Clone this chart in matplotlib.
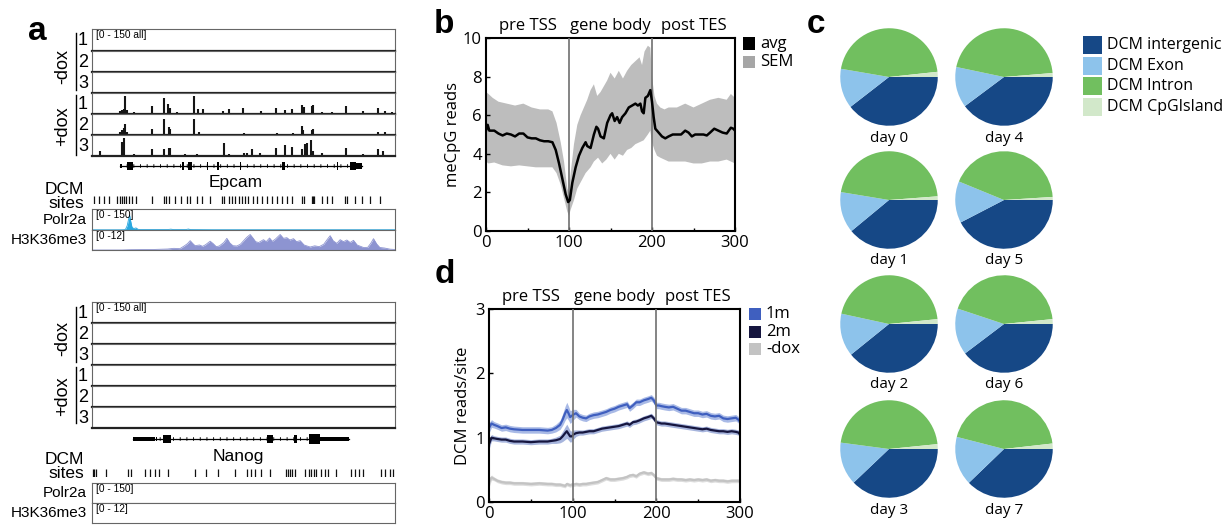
import matplotlib
matplotlib.use("Agg")
import matplotlib.pyplot as plt
from matplotlib.patches import Rectangle
import matplotlib.transforms as mtransforms

W, H = 1228, 525

# ------------------------------------------------------------------ data
# ---- panel a : Epcam locus (x = position in % of the locus window) ----
epcam_dox1_pos = [9.1, 9.9, 10.4, 11.0, 11.5, 14.0, 19.8, 23.6, 25.1, 25.6, 28.0, 33.5, 34.9, 36.5,
                  43.2, 45.2, 49.8, 55.8, 60.8, 63.7, 65.9, 69.2, 70.0, 72.5, 73.1, 76.0, 79.1, 83.7,
                  89.6, 94.3, 96.7, 98.9]
epcam_dox1_val = [24, 29, 36, 125, 29, 12, 55, 115, 70, 44, 12, 125, 36, 36,
                  20, 36, 44, 20, 44, 29, 36, 62, 48, 55, 62, 12, 12, 55,
                  20, 44, 24, 12]
epcam_dox2_pos = [2.5, 9.1, 9.9, 10.4, 11.0, 11.5, 13.7, 19.8, 23.6, 25.3, 25.8, 28.6, 33.5, 35.2,
                  43.4, 45.1, 50.0, 53.8, 56.6, 61.0, 63.7, 66.5, 69.2, 69.8, 72.5, 73.1, 75.8, 79.7,
                  84.1, 89.6, 94.5, 96.7, 98.4]
epcam_dox2_val = [7, 19, 36, 48, 75, 19, 7, 44, 112, 60, 44, 7, 112, 19,
                  7, 7, 12, 7, 7, 12, 7, 12, 62, 36, 36, 44, 7, 7,
                  7, 7, 19, 24, 7]
epcam_dox3_pos = [2.7, 9.9, 10.7, 14.0, 19.8, 23.6, 25.3, 25.8, 28.6, 30.8, 33.0, 34.6, 43.4, 45.1,
                  50.0, 51.1, 52.7, 55.5, 60.8, 63.7, 65.9, 69.2, 70.3, 70.9, 72.2, 73.1, 76.0, 83.7,
                  89.6, 94.3, 96.2, 98.4]
epcam_dox3_val = [36, 100, 128, 12, 48, 48, 55, 55, 7, 12, 7, 12, 95, 12,
                  19, 19, 48, 24, 55, 82, 62, 48, 88, 95, 112, 36, 24, 55,
                  12, 48, 36, 7]
epcam_gene = (9.1, 89.0)
epcam_exons = [(9.1, 9.9, 0.25), (11.7, 13.5, 0.5), (29.6, 30.3, 0.5), (31.7, 33.0, 0.5),
               (37.8, 38.4, 0.5), (41.2, 41.8, 0.5), (48.7, 49.3, 0.5), (62.6, 63.6, 0.5),
               (80.7, 81.2, 0.5), (85.1, 87.2, 0.5), (87.2, 89.0, 0.4)]
epcam_dcm_sites = [0.8, 2.4, 4.1, 5.7, 8.2, 9.1, 9.9, 10.7, 11.3, 12.1, 13.2, 14.6, 19.8, 23.6, 24.5,
                   25.5, 27.3, 29.3, 31.3, 32.4, 34.6, 36.3, 38.8, 42.9, 43.4, 45.1, 46.2, 47.3, 48.4,
                   49.5, 50.5, 51.6, 53.3, 54.4, 56.0, 57.7, 59.3, 61.0, 62.6, 64.3, 65.9, 69.2, 70.0,
                   72.5, 72.9, 73.3, 75.8, 77.5, 79.1, 83.5, 84.1, 86.8, 89.0, 91.8, 95.1]
epcam_polr2a_x = [0, 10, 11, 11.6, 12.0, 12.4, 12.8, 13.2, 13.8, 14.5, 15.2, 16, 25, 26, 27, 31, 31.8,
                  32.5, 40, 50, 60, 70, 80, 90, 100]
epcam_polr2a_y = [1.5, 1.5, 3, 30, 70, 108, 60, 20, 10, 15, 5, 3, 3, 6, 3, 3, 7,
                  3, 2, 2, 2, 2, 2, 2, 2]
epcam_h3k36_x = [0, 10, 13, 20, 25, 27, 29, 30.5, 31.5, 32.4, 33.2, 34, 35.5, 36.5, 37.5, 39, 40, 41,
                 42, 43.5, 44.5, 45.5, 46.5, 47.8, 49, 50, 51, 52.2, 53.2, 54, 55, 56.6, 57.5, 58.6,
                 59.5, 60.5, 62.1, 63.2, 64.3, 65.3, 66.5, 67.5, 68.7, 70, 72, 73.5, 75, 76.5, 77.5,
                 78.6, 79.6, 80.8, 81.9, 83, 84.1, 85.2, 86.3, 87.5, 89.6, 91, 92, 92.9, 94, 95,
                 96.5, 98.4, 100]
epcam_h3k36_y = [0, 0, 0.2, 0.3, 0.6, 1.0, 0.8, 2.5, 3.8, 5.6, 4.0, 2.6, 3.0, 2.2, 3.2, 5.3, 3.8, 2.0,
                 2.4, 4.5, 7.0, 4.2, 2.6, 2.4, 3.5, 5.5, 7.5, 9.3, 7.0, 5.0, 4.5, 6.2, 5.0, 7.2,
                 5.2, 6.5, 9.3, 7.0, 7.4, 6.0, 6.8, 5.0, 5.6, 3.0, 1.8, 2.5, 2.0, 3.5, 6.0,
                 8.6, 5.5, 4.0, 6.2, 5.0, 6.0, 4.5, 5.8, 3.0, 1.5, 1.6, 4.0, 6.8, 3.5, 1.5,
                 1.2, 0.5, 0.3]

# ---- panel a : Nanog locus ----
nanog_dox1_pos = [1.0, 5.4, 12.5, 53.1]
nanog_dox1_val = [5, 5, 5, 5]
nanog_dox2_pos = [1.0, 4.8, 12.5]
nanog_dox2_val = [5, 5, 5]
nanog_dox3_pos = [1.0, 4.8, 12.5, 34.4, 75.0]
nanog_dox3_val = [6, 6, 6, 5, 6]
nanog_gene = (13.5, 84.9)
nanog_exons = [(13.5, 20.7, 0.3), (21.0, 21.3, 0.3), (23.4, 26.0, 0.5), (57.6, 59.9, 0.5),
               (66.8, 67.8, 0.5), (71.7, 75.3, 0.6), (75.3, 84.9, 0.3)]
nanog_dcm_sites = [0.3, 0.7, 1.2, 4.7, 11.9, 12.8, 17.4, 19.0, 20.7, 22.0, 25.1, 33.9, 37.7, 41.6,
                   47.1, 51.3, 52.4, 53.7, 55.7, 58.7, 64.1, 64.7, 65.3, 66.0, 66.9, 70.2, 71.5,
                   72.4, 73.3, 74.0, 75.7, 77.0, 77.9, 80.6, 85.6, 86.7, 88.0, 89.5, 95.5, 96.6,
                   98.3, 99.3]

# ---- panel b : meCpG reads profile ----
b_avg_x = [0, 2, 4, 10, 15, 20, 25, 30, 35, 40, 45, 50, 55, 60, 65, 70, 75, 80, 84, 88,
           92, 96, 99, 101, 104, 108, 112, 116, 120, 122, 126, 130, 133, 135, 138, 142, 146, 150, 152, 155,
           158, 161, 164, 168, 172, 176, 180, 183, 186, 188, 190, 192, 195, 198, 200, 202, 204, 208, 212, 216,
           220, 225, 230, 235, 240, 244, 248, 252, 258, 262, 266, 270, 275, 280, 285, 290, 295, 298, 300]
b_avg_y = [5.2, 5.5, 5.2, 5.2, 5.05, 4.95, 5.05, 5.0, 4.9, 5.05, 5.05, 4.85, 4.8, 4.8, 4.7, 4.65, 4.65, 4.6, 4.2, 3.5,
           2.7, 1.9, 1.5, 1.6, 2.5, 3.3, 3.9, 4.3, 4.6, 4.4, 4.3, 5.0, 5.4, 5.3, 4.9, 4.8, 5.6, 6.0, 6.1, 5.7,
           5.9, 5.6, 5.9, 6.1, 6.4, 6.5, 6.6, 6.5, 6.6, 6.2, 6.1, 6.9, 7.0, 7.3, 6.7, 5.9, 5.3, 5.1, 4.9, 4.8,
           4.9, 5.0, 5.0, 5.0, 5.2, 5.1, 4.9, 5.0, 5.0, 5.0, 4.95, 5.1, 5.3, 5.2, 5.1, 5.05, 5.35, 5.3, 5.2]
b_sem_hi_x = [0, 3, 8, 15, 25, 35, 45, 55, 65, 75, 80, 85, 90, 94, 98, 100, 102, 106, 110, 114,
              118, 122, 126, 130, 134, 138, 142, 146, 150, 155, 160, 165, 170, 175, 180, 185, 188, 191, 195, 198,
              200, 203, 206, 210, 215, 220, 230, 240, 250, 260, 270, 280, 290, 295, 300]
b_sem_hi_y = [7.2, 7.1, 6.9, 6.7, 6.6, 6.5, 6.6, 6.4, 6.3, 6.3, 6.2, 5.6, 4.6, 3.6, 2.2, 2.0, 3.0, 4.5, 5.5, 6.0,
              6.4, 6.8, 7.3, 7.6, 7.0, 7.2, 7.5, 7.8, 8.2, 7.9, 8.3, 7.9, 8.3, 8.6, 8.8, 9.0, 8.6, 9.3, 9.6, 9.5,
              8.0, 7.0, 6.6, 6.4, 6.3, 6.4, 6.4, 6.6, 6.4, 6.6, 6.8, 6.9, 6.8, 7.1, 6.9]
b_sem_lo_x = [0, 3, 10, 20, 30, 40, 50, 60, 70, 80, 85, 90, 94, 98, 100, 102, 106, 110, 115, 120,
              126, 130, 135, 140, 145, 150, 155, 160, 165, 170, 175, 180, 185, 190, 195, 198, 200, 203, 206, 210,
              215, 220, 230, 240, 250, 260, 270, 280, 290, 295, 300]
b_sem_lo_y = [3.6, 3.5, 3.55, 3.4, 3.35, 3.4, 3.35, 3.3, 3.3, 3.3, 3.0, 2.4, 1.7, 1.0, 0.8, 1.1, 1.6, 2.2, 2.6, 3.0,
              3.3, 3.6, 3.8, 3.5, 3.7, 4.0, 3.7, 4.0, 3.9, 4.2, 4.3, 4.5, 4.6, 4.7, 5.0, 5.2, 4.6, 4.2, 3.9, 3.8,
              3.7, 3.6, 3.6, 3.6, 3.5, 3.5, 3.6, 3.6, 3.7, 3.6, 3.5]

# ---- panel c : genomic distribution of DCM sites ----
c_categories = ["DCM intergenic", "DCM Exon", "DCM Intron", "DCM CpGIsland"]
c_days = ["day 0", "day 4", "day 1", "day 5", "day 2", "day 6", "day 3", "day 7"]
c_values = {
    "day 0": [39.5, 13.2, 45.6, 1.7],
    "day 4": [39.8, 13.5, 45.4, 1.3],
    "day 1": [39.0, 13.6, 46.2, 1.2],
    "day 5": [42.4, 13.8, 42.8, 1.0],
    "day 2": [39.2, 14.2, 45.0, 1.6],
    "day 6": [39.7, 15.4, 43.3, 1.6],
    "day 3": [37.9, 14.2, 46.3, 1.6],
    "day 7": [37.8, 16.2, 44.2, 1.8],
}

# ---- panel d : DCM reads per site ----
d_x = [0, 3, 6, 10, 15, 20, 25, 30, 40, 50, 60, 70, 75, 80, 85, 88, 91, 93, 95, 97,
       99, 101, 104, 108, 112, 116, 120, 125, 130, 135, 140, 145, 150, 155, 160, 165, 168, 172, 176, 180,
       185, 190, 194, 197, 200, 203, 206, 210, 215, 220, 225, 230, 235, 240, 245, 250, 255, 260, 265, 270,
       275, 280, 285, 290, 295, 298, 300]
d_1m = [1.15, 1.22, 1.2, 1.18, 1.15, 1.16, 1.14, 1.13, 1.12, 1.12, 1.12, 1.11, 1.12, 1.15, 1.2, 1.28, 1.38, 1.43, 1.38, 1.32,
        1.34, 1.36, 1.38, 1.33, 1.31, 1.3, 1.33, 1.35, 1.36, 1.38, 1.40, 1.43, 1.45, 1.48, 1.5, 1.52, 1.46, 1.5, 1.55, 1.55,
        1.58, 1.6, 1.62, 1.58, 1.5, 1.5, 1.49, 1.48, 1.47, 1.48, 1.45, 1.42, 1.42, 1.4, 1.38, 1.38, 1.36, 1.37, 1.34, 1.33,
        1.34, 1.3, 1.29, 1.3, 1.31, 1.28, 1.25]
d_1m_sem = [0.08, 0.06, 0.05, 0.05, 0.05, 0.05, 0.05, 0.05, 0.05, 0.05, 0.05, 0.05, 0.05, 0.06, 0.07, 0.09, 0.11, 0.12, 0.11, 0.10,
            0.09, 0.08, 0.06, 0.05, 0.05, 0.05, 0.05, 0.05, 0.05, 0.05, 0.05, 0.05, 0.05, 0.05, 0.05, 0.05, 0.05, 0.05, 0.05, 0.05,
            0.05, 0.05, 0.05, 0.05, 0.05, 0.05, 0.05, 0.05, 0.05, 0.05, 0.05, 0.05, 0.05, 0.05, 0.05, 0.05, 0.05, 0.05, 0.05, 0.05,
            0.05, 0.05, 0.05, 0.05, 0.05, 0.05, 0.06]
d_2m = [0.9, 1.0, 0.99, 0.98, 0.97, 0.97, 0.95, 0.94, 0.94, 0.93, 0.94, 0.94, 0.95, 0.96, 0.98, 1.02, 1.07, 1.1, 1.06, 1.02,
        1.02, 1.05, 1.07, 1.08, 1.08, 1.09, 1.1, 1.1, 1.12, 1.14, 1.15, 1.16, 1.17, 1.18, 1.2, 1.22, 1.2, 1.24, 1.25, 1.27,
        1.3, 1.32, 1.34, 1.3, 1.24, 1.23, 1.22, 1.22, 1.21, 1.2, 1.19, 1.18, 1.17, 1.16, 1.15, 1.14, 1.13, 1.14, 1.12, 1.11,
        1.1, 1.1, 1.09, 1.1, 1.09, 1.08, 1.05]
d_2m_sem = [0.08, 0.05, 0.04, 0.04, 0.04, 0.04, 0.04, 0.04, 0.04, 0.04, 0.04, 0.04, 0.04, 0.05, 0.06, 0.08, 0.10, 0.11, 0.10, 0.09,
            0.08, 0.07, 0.05, 0.04, 0.04, 0.04, 0.04, 0.04, 0.04, 0.04, 0.04, 0.04, 0.04, 0.04, 0.04, 0.04, 0.04, 0.04, 0.04, 0.04,
            0.04, 0.04, 0.04, 0.04, 0.04, 0.04, 0.04, 0.04, 0.04, 0.04, 0.04, 0.04, 0.04, 0.04, 0.04, 0.04, 0.04, 0.04, 0.04, 0.04,
            0.04, 0.04, 0.04, 0.04, 0.04, 0.04, 0.05]
d_nodox = [0.3, 0.38, 0.36, 0.33, 0.31, 0.3, 0.3, 0.29, 0.29, 0.28, 0.29, 0.28, 0.28, 0.27, 0.27, 0.26, 0.25, 0.28, 0.27, 0.26,
           0.27, 0.27, 0.28, 0.27, 0.28, 0.28, 0.29, 0.3, 0.31, 0.34, 0.37, 0.35, 0.35, 0.36, 0.37, 0.39, 0.41, 0.42, 0.4, 0.44,
           0.46, 0.44, 0.45, 0.42, 0.37, 0.36, 0.35, 0.35, 0.35, 0.36, 0.35, 0.35, 0.34, 0.35, 0.34, 0.35, 0.34, 0.35, 0.33, 0.34,
           0.33, 0.33, 0.32, 0.33, 0.33, 0.33, 0.32]
d_nodox_sem = [0.07, 0.04, 0.03, 0.03, 0.03, 0.03, 0.03, 0.03, 0.03, 0.03, 0.03, 0.03, 0.03, 0.03, 0.03, 0.03, 0.03, 0.03, 0.03, 0.03,
               0.03, 0.03, 0.03, 0.03, 0.03, 0.03, 0.03, 0.03, 0.03, 0.03, 0.03, 0.03, 0.03, 0.03, 0.03, 0.03, 0.03, 0.03, 0.03, 0.03,
               0.03, 0.03, 0.03, 0.03, 0.03, 0.03, 0.03, 0.03, 0.03, 0.03, 0.03, 0.03, 0.03, 0.03, 0.03, 0.03, 0.03, 0.03, 0.03, 0.03,
               0.03, 0.03, 0.03, 0.03, 0.03, 0.03, 0.03]

region_labels = ["pre TSS", "gene body", "post TES"]
region_centers = [50, 150, 250]

# ------------------------------------------------------------------ figure
fig = plt.figure(figsize=(W / 100, H / 100), dpi=100)
FA = "Liberation Sans"
FB = "Open Sans"


def ax_px(x0, y0, x1, y1):
    return fig.add_axes([x0 / W, 1 - y1 / H, (x1 - x0) / W, (y1 - y0) / H])


def ftext(x, y, s, **kw):
    return fig.text(x / W, 1 - y / H, s, **kw)


def fsquare(x, yc, w, h, color):
    fig.add_artist(Rectangle((x / W, 1 - (yc + h / 2) / H), w / W, h / H,
                             transform=fig.transFigure, facecolor=color, edgecolor="none"))


# ---------------- panel a ----------------
def read_row(y0, y1, pos, val, label=None):
    ax = ax_px(92, y0, 395, y1)
    ax.set_xlim(0, 100)
    ax.set_ylim(0, 150)
    if len(pos):
        ax.vlines(pos, 0, val, color="#151515", lw=1.5)
    for k, s in ax.spines.items():
        s.set_color("#666666")
        s.set_linewidth(0.8)
    ax.spines["bottom"].set_color("#222222")
    ax.spines["bottom"].set_linewidth(1.6)
    ax.set_xticks([])
    ax.set_yticks([])
    if label:
        ax.text(0.012, 0.95, label, transform=ax.transAxes, va="top", ha="left",
                fontsize=7.3, family=FA)
    return ax


def gene_model(y0, y1, span, exons):
    ax = ax_px(92, y0, 395, y1)
    ax.set_xlim(0, 100)
    ax.set_ylim(-1, 1)
    ax.axis("off")
    ax.plot(span, [0, 0], color="k", lw=0.9)
    ax.plot(span, [0, 0], color="k", lw=2.6, ls=(0, (0.25, 1.6)))
    for s, e, h in exons:
        ax.add_patch(Rectangle((s, -h), e - s, 2 * h, facecolor="k", edgecolor="none"))


def site_row(y0, y1, sites):
    ax = ax_px(92, y0, 395, y1)
    ax.set_xlim(0, 100)
    ax.set_ylim(0, 1)
    ax.axis("off")
    ax.vlines(sites, 0, 1, color="#111111", lw=0.9)


def chip_row(y0, y1, x, y, ymax, color, label, fill):
    ax = ax_px(92, y0, 395, y1)
    ax.set_xlim(0, 100)
    ax.set_ylim(0, ymax)
    if fill:
        ax.fill_between(x, 0, y, color=color, lw=0)
        ax.plot(x, y, color=color, lw=0.6)
    for s in ax.spines.values():
        s.set_color("#666666")
        s.set_linewidth(0.8)
    ax.set_xticks([])
    ax.set_yticks([])
    ax.text(0.012, 0.95, label, transform=ax.transAxes, va="top", ha="left", fontsize=7.3, family=FA)


def locus(rows, rowdata, gene_y, span, exons, gname, gname_xy, dcm_lbl_y, sites_y, sites,
          chip_y, polr_data, h3_data, h3_label, dox_lbl_y, bars):
    for i in range(6):
        pos, val = rowdata[i]
        read_row(rows[i], rows[i + 1], pos, val, "[0 - 150 all]" if i == 0 else None)
        ftext(83, (rows[i] + rows[i + 1]) / 2 + 1, str(i % 3 + 1), ha="center", va="center",
              fontsize=13, family=FA)
    for (ya, yb) in bars:
        fig.add_artist(plt.Line2D([76 / W, 76 / W], [1 - ya / H, 1 - yb / H], color="k", lw=1.0,
                                  transform=fig.transFigure))
    ftext(63, dox_lbl_y[0], "-dox", rotation=90, ha="center", va="center", fontsize=13, family=FA)
    ftext(63, dox_lbl_y[1], "+dox", rotation=90, ha="center", va="center", fontsize=13, family=FA)
    gene_model(gene_y - 8, gene_y + 8, span, exons)
    ftext(gname_xy[0], gname_xy[1], gname, ha="center", va="center", fontsize=12.5, family=FA)
    ftext(84, dcm_lbl_y, "DCM", ha="right", va="center", fontsize=12.5, family=FA)
    ftext(84, dcm_lbl_y + 13, "sites", ha="right", va="center", fontsize=12.5, family=FA)
    site_row(sites_y - 4, sites_y + 4, sites)
    chip_row(chip_y[0], chip_y[1], polr_data[0], polr_data[1], 150, "#29A8E0", "[0 - 150]",
             polr_data[0] is not None and len(polr_data[0]) > 0)
    chip_row(chip_y[1], chip_y[2], h3_data[0], h3_data[1], 12, "#8D94D1", h3_label,
             h3_data[0] is not None and len(h3_data[0]) > 0)
    ftext(87, (chip_y[0] + chip_y[1]) / 2, "Polr2a", ha="right", va="center", fontsize=11, family=FA)
    ftext(87, (chip_y[1] + chip_y[2]) / 2, "H3K36me3", ha="right", va="center", fontsize=11, family=FA)


locus([29, 50.5, 71.7, 93, 114, 135, 156],
      [([], []), ([], []), ([], []),
       (epcam_dox1_pos, epcam_dox1_val), (epcam_dox2_pos, epcam_dox2_val), (epcam_dox3_pos, epcam_dox3_val)],
      166, epcam_gene, epcam_exons, "Epcam", (236, 183), 190, 200, epcam_dcm_sites,
      (209, 230, 250), (epcam_polr2a_x, epcam_polr2a_y), (epcam_h3k36_x, epcam_h3k36_y), "[0 -12]",
      (66, 126), [(33, 90), (95, 155)])

locus([302, 323, 344, 365, 386, 407, 428],
      [([], []), ([], []), ([], []),
       (nanog_dox1_pos, nanog_dox1_val), (nanog_dox2_pos, nanog_dox2_val), (nanog_dox3_pos, nanog_dox3_val)],
      439, nanog_gene, nanog_exons, "Nanog", (238, 457), 460, 473, nanog_dcm_sites,
      (483, 503, 523), ([], []), ([], []), "[0 - 12]",
      (339, 396), [(307, 362), (367, 423)])

ftext(37, 40, "a", ha="center", va="baseline", fontsize=24, fontweight="bold", family=FA)


# ---------------- panels b and d ----------------
def profile_axes(box, ymax, yticks, ylabel, ylabel_x):
    ax = ax_px(*box)
    ax.set_xlim(0, 300)
    ax.set_ylim(0, ymax)
    ax.set_xticks([0, 100, 200, 300])
    ax.set_xticks([50, 150, 250], minor=True)
    ax.set_yticks(yticks)
    ax.tick_params(which="both", direction="in", length=3, width=1.0, labelsize=12, pad=3)
    ax.tick_params(which="minor", length=2)
    for lab in ax.get_xticklabels() + ax.get_yticklabels():
        lab.set_family(FB)
    for s in ax.spines.values():
        s.set_linewidth(1.5)
    ax.axvline(100, color="#6f6f6f", lw=1.2, zorder=3)
    ax.axvline(200, color="#6f6f6f", lw=1.2, zorder=3)
    ax.set_ylabel(ylabel, fontsize=12, family=FB)
    ax.yaxis.set_label_coords(ylabel_x, 0.5)
    trans = mtransforms.blended_transform_factory(ax.transData, ax.transAxes)
    for c, t in zip(region_centers, region_labels):
        ax.text(c, 1.062, t, transform=trans, ha="center", va="center", fontsize=12, family=FB)
    return ax


axb = profile_axes((486, 38, 735, 231), 10, [0, 2, 4, 6, 8, 10], "meCpG reads", -0.10)
axb.fill(b_sem_hi_x + b_sem_lo_x[::-1], b_sem_hi_y + b_sem_lo_y[::-1], color="#BDBDBD", lw=0, zorder=1)
axb.plot(b_avg_x, b_avg_y, color="k", lw=1.8, zorder=4)
fsquare(743, 43.5, 12, 12, "k")
fsquare(743, 62, 12, 12, "#A6A6A6")
ftext(760, 43.5, "avg", ha="left", va="center", fontsize=12, family=FB)
ftext(760, 62, "SEM", ha="left", va="center", fontsize=12, family=FB)
ftext(444, 33, "b", ha="center", va="baseline", fontsize=24, fontweight="bold", family=FA)

axd = profile_axes((489, 309, 740, 502), 3, [0, 1, 2, 3], "DCM reads/site", -0.07)
series_d = [(d_nodox, d_nodox_sem, "#C3C3C3", "#DDDDDD"),
            (d_2m, d_2m_sem, "#16163F", "#A7B5DD"),
            (d_1m, d_1m_sem, "#3F5FBF", "#A9BAE6")]
for vals, sem, lc, bc in series_d:
    lo = [v - s for v, s in zip(vals, sem)]
    hi = [v + s for v, s in zip(vals, sem)]
    axd.fill_between(d_x, lo, hi, color=bc, lw=0, zorder=1)
    axd.plot(d_x, vals, color=lc, lw=1.6, zorder=2)
for yc, col, lab in [(314, "#3F5FBF", "1m"), (332, "#16163F", "2m"), (349, "#C3C3C3", "-dox")]:
    fsquare(749, yc, 12, 12, col)
    ftext(766, yc, lab, ha="left", va="center", fontsize=12, family=FB)
ftext(445, 283, "d", ha="center", va="baseline", fontsize=24, fontweight="bold", family=FA)

# ---------------- panel c ----------------
c_colors = ["#164886", "#8DC3EB", "#71BF5F", "#D2E8CA"]
col_x = [889, 1004]
row_y = [77, 200, 324, 449]
for i, day in enumerate(c_days):
    cx = col_x[i % 2]
    cy = row_y[i // 2]
    ax = ax_px(cx - 50, cy - 50, cx + 50, cy + 50)
    ax.pie(c_values[day], colors=c_colors, startangle=0, counterclock=False, radius=0.975,
           wedgeprops=dict(linewidth=0))
    ax.set_xlim(-1, 1)
    ax.set_ylim(-1, 1)
    ax.set_aspect("equal")
    ftext(cx, cy + 61, day, ha="center", va="center", fontsize=11, family=FB)

for k, (cat, col) in enumerate(zip(c_categories, c_colors)):
    yc = 45 + k * 20.7
    fsquare(1083, yc, 19, 18, col)
    ftext(1107, yc, cat, ha="left", va="center", fontsize=11.5, family=FB)
ftext(816, 33, "c", ha="center", va="baseline", fontsize=24, fontweight="bold", family=FA)

fig.savefig("out.png", dpi=100)
